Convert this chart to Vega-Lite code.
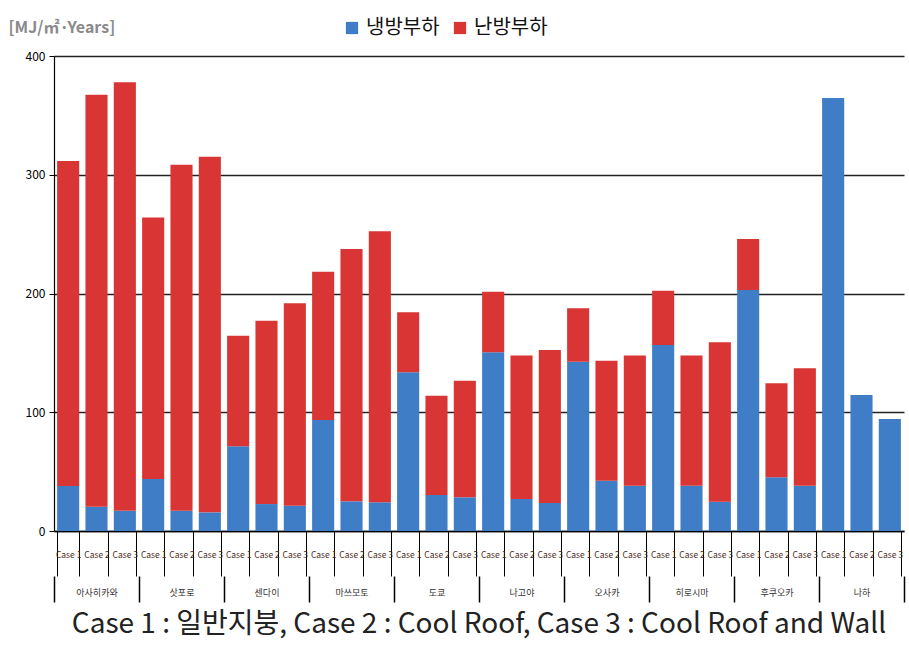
{
  "$schema": "https://vega.github.io/schema/vega-lite/v6.json",
  "width": 850,
  "height": 475,
  "padding": {"left": 8, "top": 18, "right": 4, "bottom": 3},
  "background": "white",
  "config": {
    "font": "Noto Sans CJK KR",
    "view": {"stroke": null}
  },
  "title": {
    "text": "Case 1 : 일반지붕, Case 2 : Cool Roof, Case 3 : Cool Roof and Wall",
    "orient": "bottom",
    "anchor": "middle",
    "offset": 8,
    "fontSize": 28,
    "fontWeight": "normal",
    "color": "#222222"
  },
  "data": {
    "values": [
      {"city": "아사히카와", "bar": "Case 1", "type": "냉방부하", "value": 38},
      {"city": "아사히카와", "bar": "Case 1", "type": "난방부하", "value": 273.6},
      {"city": "아사히카와", "bar": "Case 2", "type": "냉방부하", "value": 20.5},
      {"city": "아사히카와", "bar": "Case 2", "type": "난방부하", "value": 346.9},
      {"city": "아사히카와", "bar": "Case 3", "type": "냉방부하", "value": 17},
      {"city": "아사히카와", "bar": "Case 3", "type": "난방부하", "value": 360.8},
      {"city": "삿포로", "bar": "Case 1\u200b", "type": "냉방부하", "value": 43.8},
      {"city": "삿포로", "bar": "Case 1\u200b", "type": "난방부하", "value": 220.3},
      {"city": "삿포로", "bar": "Case 2\u200b", "type": "냉방부하", "value": 17},
      {"city": "삿포로", "bar": "Case 2\u200b", "type": "난방부하", "value": 291.5},
      {"city": "삿포로", "bar": "Case 3\u200b", "type": "냉방부하", "value": 15.7},
      {"city": "삿포로", "bar": "Case 3\u200b", "type": "난방부하", "value": 299.5},
      {"city": "센다이", "bar": "Case 1\u200b\u200b", "type": "냉방부하", "value": 71.3},
      {"city": "센다이", "bar": "Case 1\u200b\u200b", "type": "난방부하", "value": 93.2},
      {"city": "센다이", "bar": "Case 2\u200b\u200b", "type": "냉방부하", "value": 22.7},
      {"city": "센다이", "bar": "Case 2\u200b\u200b", "type": "난방부하", "value": 154.4},
      {"city": "센다이", "bar": "Case 3\u200b\u200b", "type": "냉방부하", "value": 21.3},
      {"city": "센다이", "bar": "Case 3\u200b\u200b", "type": "난방부하", "value": 170.4},
      {"city": "마쓰모토", "bar": "Case 1\u200b\u200b\u200b", "type": "냉방부하", "value": 93.5},
      {"city": "마쓰모토", "bar": "Case 1\u200b\u200b\u200b", "type": "난방부하", "value": 124.9},
      {"city": "마쓰모토", "bar": "Case 2\u200b\u200b\u200b", "type": "냉방부하", "value": 25},
      {"city": "마쓰모토", "bar": "Case 2\u200b\u200b\u200b", "type": "난방부하", "value": 212.5},
      {"city": "마쓰모토", "bar": "Case 3\u200b\u200b\u200b", "type": "냉방부하", "value": 24.2},
      {"city": "마쓰모토", "bar": "Case 3\u200b\u200b\u200b", "type": "난방부하", "value": 228.2},
      {"city": "도쿄", "bar": "Case 1\u200b\u200b\u200b\u200b", "type": "냉방부하", "value": 133.6},
      {"city": "도쿄", "bar": "Case 1\u200b\u200b\u200b\u200b", "type": "난방부하", "value": 50.6},
      {"city": "도쿄", "bar": "Case 2\u200b\u200b\u200b\u200b", "type": "냉방부하", "value": 30.3},
      {"city": "도쿄", "bar": "Case 2\u200b\u200b\u200b\u200b", "type": "난방부하", "value": 83.7},
      {"city": "도쿄", "bar": "Case 3\u200b\u200b\u200b\u200b", "type": "냉방부하", "value": 28.4},
      {"city": "도쿄", "bar": "Case 3\u200b\u200b\u200b\u200b", "type": "난방부하", "value": 98.2},
      {"city": "나고야", "bar": "Case 1\u200b\u200b\u200b\u200b\u200b", "type": "냉방부하", "value": 150.5},
      {"city": "나고야", "bar": "Case 1\u200b\u200b\u200b\u200b\u200b", "type": "난방부하", "value": 51},
      {"city": "나고야", "bar": "Case 2\u200b\u200b\u200b\u200b\u200b", "type": "냉방부하", "value": 27},
      {"city": "나고야", "bar": "Case 2\u200b\u200b\u200b\u200b\u200b", "type": "난방부하", "value": 120.7},
      {"city": "나고야", "bar": "Case 3\u200b\u200b\u200b\u200b\u200b", "type": "냉방부하", "value": 23.6},
      {"city": "나고야", "bar": "Case 3\u200b\u200b\u200b\u200b\u200b", "type": "난방부하", "value": 128.8},
      {"city": "오사카", "bar": "Case 1\u200b\u200b\u200b\u200b\u200b\u200b", "type": "냉방부하", "value": 142.6},
      {"city": "오사카", "bar": "Case 1\u200b\u200b\u200b\u200b\u200b\u200b", "type": "난방부하", "value": 44.9},
      {"city": "오사카", "bar": "Case 2\u200b\u200b\u200b\u200b\u200b\u200b", "type": "냉방부하", "value": 42.4},
      {"city": "오사카", "bar": "Case 2\u200b\u200b\u200b\u200b\u200b\u200b", "type": "난방부하", "value": 101},
      {"city": "오사카", "bar": "Case 3\u200b\u200b\u200b\u200b\u200b\u200b", "type": "냉방부하", "value": 38.2},
      {"city": "오사카", "bar": "Case 3\u200b\u200b\u200b\u200b\u200b\u200b", "type": "난방부하", "value": 109.5},
      {"city": "히로시마", "bar": "Case 1\u200b\u200b\u200b\u200b\u200b\u200b\u200b", "type": "냉방부하", "value": 156.6},
      {"city": "히로시마", "bar": "Case 1\u200b\u200b\u200b\u200b\u200b\u200b\u200b", "type": "난방부하", "value": 45.8},
      {"city": "히로시마", "bar": "Case 2\u200b\u200b\u200b\u200b\u200b\u200b\u200b", "type": "냉방부하", "value": 38.2},
      {"city": "히로시마", "bar": "Case 2\u200b\u200b\u200b\u200b\u200b\u200b\u200b", "type": "난방부하", "value": 109.5},
      {"city": "히로시마", "bar": "Case 3\u200b\u200b\u200b\u200b\u200b\u200b\u200b", "type": "냉방부하", "value": 24.7},
      {"city": "히로시마", "bar": "Case 3\u200b\u200b\u200b\u200b\u200b\u200b\u200b", "type": "난방부하", "value": 134.2},
      {"city": "후쿠오카", "bar": "Case 1\u200b\u200b\u200b\u200b\u200b\u200b\u200b\u200b", "type": "냉방부하", "value": 203},
      {"city": "후쿠오카", "bar": "Case 1\u200b\u200b\u200b\u200b\u200b\u200b\u200b\u200b", "type": "난방부하", "value": 42.9},
      {"city": "후쿠오카", "bar": "Case 2\u200b\u200b\u200b\u200b\u200b\u200b\u200b\u200b", "type": "냉방부하", "value": 45.2},
      {"city": "후쿠오카", "bar": "Case 2\u200b\u200b\u200b\u200b\u200b\u200b\u200b\u200b", "type": "난방부하", "value": 79.2},
      {"city": "후쿠오카", "bar": "Case 3\u200b\u200b\u200b\u200b\u200b\u200b\u200b\u200b", "type": "냉방부하", "value": 38.2},
      {"city": "후쿠오카", "bar": "Case 3\u200b\u200b\u200b\u200b\u200b\u200b\u200b\u200b", "type": "난방부하", "value": 98.8},
      {"city": "나하", "bar": "Case 1\u200b\u200b\u200b\u200b\u200b\u200b\u200b\u200b\u200b", "type": "냉방부하", "value": 364.6},
      {"city": "나하", "bar": "Case 1\u200b\u200b\u200b\u200b\u200b\u200b\u200b\u200b\u200b", "type": "난방부하", "value": 0},
      {"city": "나하", "bar": "Case 2\u200b\u200b\u200b\u200b\u200b\u200b\u200b\u200b\u200b", "type": "냉방부하", "value": 114.5},
      {"city": "나하", "bar": "Case 2\u200b\u200b\u200b\u200b\u200b\u200b\u200b\u200b\u200b", "type": "난방부하", "value": 0},
      {"city": "나하", "bar": "Case 3\u200b\u200b\u200b\u200b\u200b\u200b\u200b\u200b\u200b", "type": "냉방부하", "value": 94.3},
      {"city": "나하", "bar": "Case 3\u200b\u200b\u200b\u200b\u200b\u200b\u200b\u200b\u200b", "type": "난방부하", "value": 0}
    ]
  },
  "layer": [
    {
      "mark": {"type": "bar"},
      "encoding": {
        "x": {
          "field": "bar",
          "type": "nominal",
          "sort": null,
          "scale": {"paddingInner": 0.22, "paddingOuter": 0.11},
          "axis": {
            "orient": "bottom",
            "title": null,
            "labelAngle": 0,
            "labelFontSize": 8.5,
            "labelColor": "#4a2a1a",
            "labelBaseline": "middle",
            "labelPadding": -22,
            "tickBand": "extent",
            "tickSize": 45,
            "tickColor": "#000000",
            "tickWidth": 1,
            "domainColor": "#000000",
            "domainWidth": 1.5
          }
        },
        "y": {
          "field": "value",
          "type": "quantitative",
          "stack": "zero",
          "scale": {"domain": [0, 400], "nice": false},
          "axis": {
            "values": [0, 100, 200, 300, 400],
            "title": "[MJ/㎡·Years]",
            "titleAngle": 0,
            "titleAlign": "left",
            "titleBaseline": "middle",
            "titleX": -46,
            "titleY": -29,
            "titleColor": "#8a8a8a",
            "titleFontSize": 16,
            "titleFontWeight": "bold",
            "labelFontSize": 12,
            "labelColor": "#000000",
            "labelPadding": 4,
            "tickSize": 5,
            "tickColor": "#000000",
            "domainColor": "#000000",
            "domainWidth": 1.2,
            "gridColor": "#222222",
            "gridWidth": 1.3
          }
        },
        "color": {
          "field": "type",
          "type": "nominal",
          "sort": ["냉방부하", "난방부하"],
          "scale": {"domain": ["냉방부하", "난방부하"], "range": ["#3f7ec6", "#d93535"]},
          "legend": {
            "title": null,
            "orient": "none",
            "legendX": 288,
            "legendY": -38,
            "direction": "horizontal",
            "symbolType": "square",
            "symbolSize": 150,
            "labelFontSize": 20,
            "labelColor": "#111111"
          }
        }
      }
    },
    {
      "mark": {"type": "text", "opacity": 0},
      "encoding": {
        "x": {
          "field": "city",
          "type": "nominal",
          "sort": null,
          "scale": {"paddingInner": 0, "paddingOuter": 0},
          "axis": {
            "orient": "bottom",
            "title": null,
            "offset": 45,
            "labelAngle": 0,
            "labelFontSize": 9,
            "labelColor": "#333333",
            "labelBaseline": "middle",
            "labelPadding": -10,
            "tickBand": "extent",
            "tickSize": 26,
            "tickColor": "#000000",
            "tickWidth": 1.5,
            "domain": false
          }
        },
        "text": {"value": "."}
      }
    }
  ],
  "resolve": {"scale": {"x": "independent"}, "axis": {"x": "independent"}}
}
